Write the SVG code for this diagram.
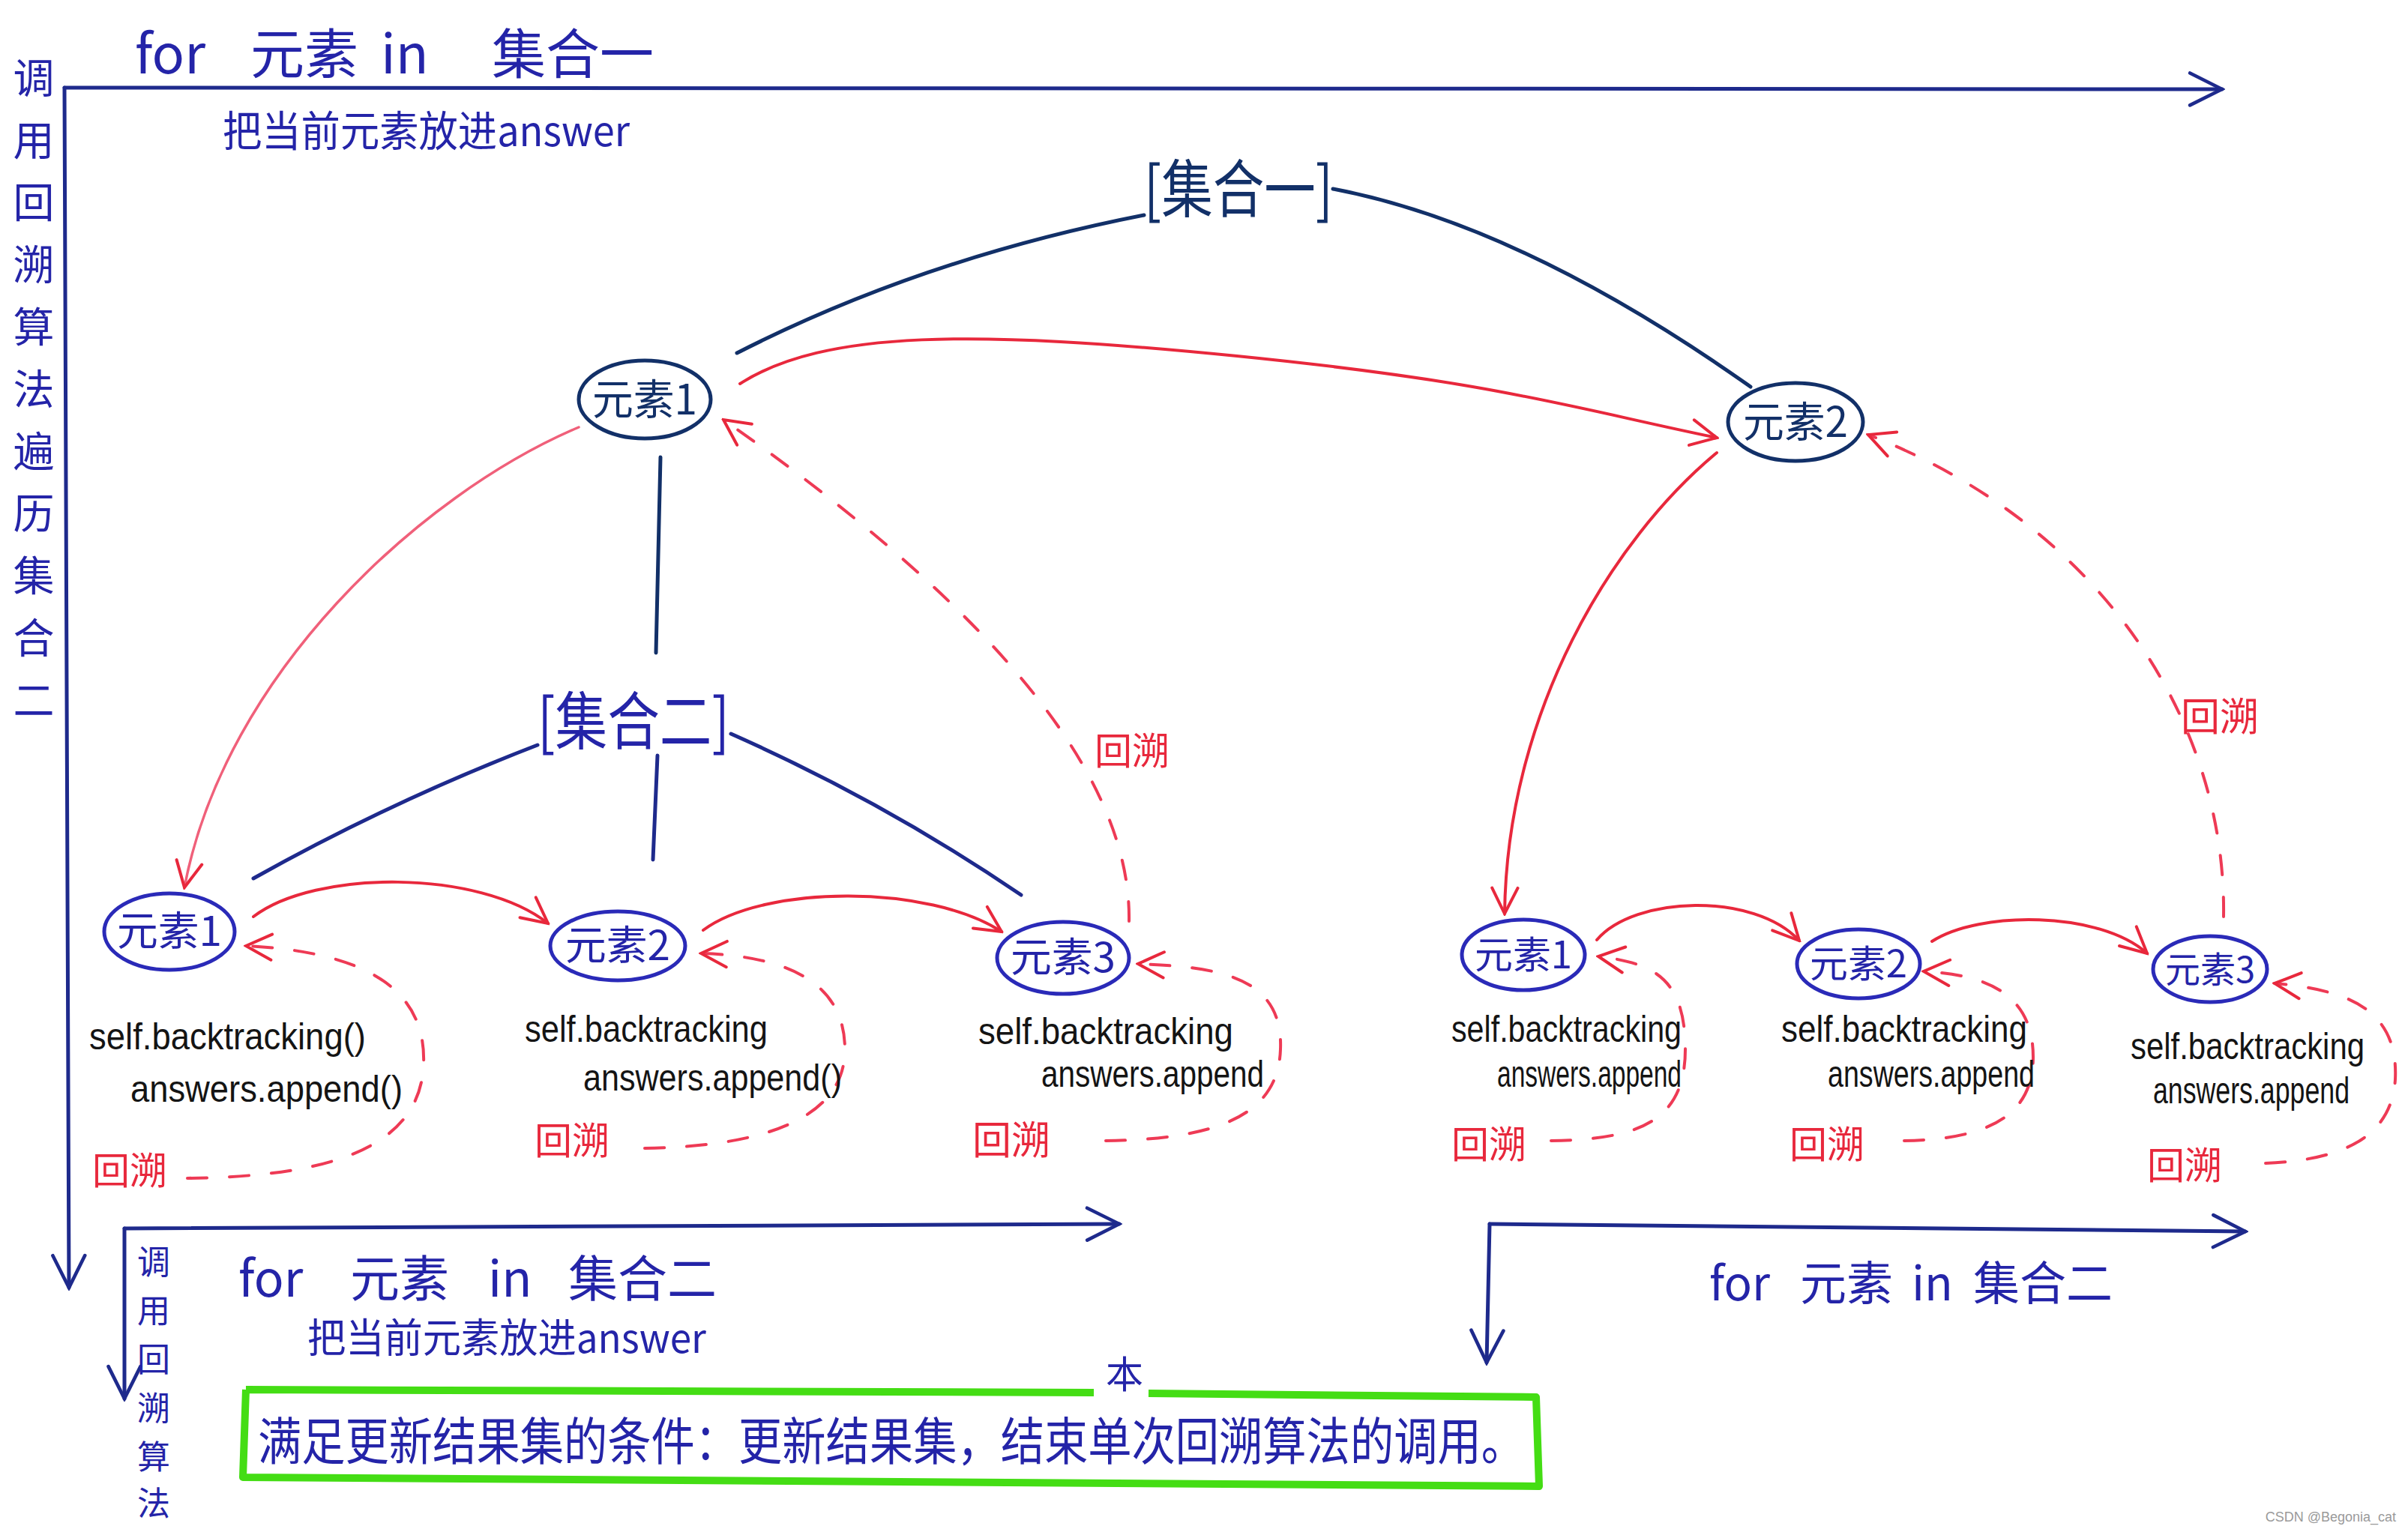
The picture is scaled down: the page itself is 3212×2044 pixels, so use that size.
<svg xmlns="http://www.w3.org/2000/svg" width="3212" height="2044" viewBox="0 0 3212 2044">
<defs>
<style>
.cjk{font-family:"Noto Sans CJK SC","Noto Sans",sans-serif;}
.code{font-family:"Liberation Sans","DejaVu Sans",sans-serif;fill:#141414;font-size:50px;}
.blue{fill:#2424a8;}
.navy{fill:#123068;}
.red{fill:#e8283c;}
.lnB{fill:none;stroke:#1e2a8c;stroke-width:5;stroke-linecap:round;}
.lnN{fill:none;stroke:#123068;stroke-width:5;stroke-linecap:round;}
.lnR{fill:none;stroke:#e8283c;stroke-width:4;stroke-linecap:round;}
.lnP{fill:none;stroke:#f0607a;stroke-width:3.5;stroke-linecap:round;}
.dash{fill:none;stroke:#ee3a55;stroke-width:4;stroke-dasharray:26 30;stroke-linecap:round;}
.nodeTop{fill:none;stroke:#123068;stroke-width:5;}
.nodeBot{fill:none;stroke:#2a2ab8;stroke-width:5;}
</style>
<marker id="ar" viewBox="0 0 14 14" refX="13" refY="7" markerWidth="40" markerHeight="40" markerUnits="userSpaceOnUse" orient="auto">
<path d="M1,1 L13,7 L1,13" fill="none" stroke="#e8283c" stroke-width="1.4" stroke-dasharray="none" stroke-linecap="round"/>
</marker>
<marker id="ab" viewBox="0 0 14 14" refX="13" refY="7" markerWidth="50" markerHeight="50" markerUnits="userSpaceOnUse" orient="auto">
<path d="M1,1 L13,7 L1,13" fill="none" stroke="#1e2a8c" stroke-width="1.3" stroke-linecap="round"/>
</marker>
</defs>
<rect width="3212" height="2044" fill="#ffffff"/>

<g id="connectors">
<!-- main loop frame -->
<path class="lnB" d="M86,117 L2964,119" marker-end="url(#ab)"/>
<path class="lnB" d="M86,117 L92,1718" marker-end="url(#ab)"/>
<!-- bottom-left frame -->
<path class="lnB" d="M166,1639 L1493,1633" marker-end="url(#ab)"/>
<path class="lnB" d="M166,1639 L166,1866" marker-end="url(#ab)"/>
<!-- bottom-right frame -->
<path class="lnB" d="M1987,1633 L2995,1643" marker-end="url(#ab)"/>
<path class="lnB" d="M1987,1633 L1983,1818" marker-end="url(#ab)"/>
<!-- tree lines -->
<path class="lnN" d="M1526,287 Q1230,345 983,471"/>
<path class="lnN" d="M1778,252 Q2030,300 2335,516"/>
<path class="lnN" d="M881,610 L875,871"/>
<path class="lnB" d="M717,994 Q520,1070 338,1172"/>
<path class="lnB" d="M877,1008 L871,1147"/>
<path class="lnB" d="M975,979 Q1180,1070 1362,1194"/>
<!-- red forward arrows -->
<path class="lnR" d="M987,512 C1100,440 1300,440 1650,475 S2100,545 2290,584" marker-end="url(#ar)"/>
<path class="lnP" d="M772,570 C560,660 300,900 246,1184" marker-end="url(#ar)"/>
<path class="lnR" d="M2290,604 C2150,720 2010,950 2007,1219" marker-end="url(#ar)"/>
<path class="lnR" d="M338,1223 C420,1160 640,1160 731,1232" marker-end="url(#ar)"/>
<path class="lnR" d="M938,1241 C1020,1180 1240,1180 1336,1243" marker-end="url(#ar)"/>
<path class="lnR" d="M2130,1254 C2180,1195 2340,1190 2400,1255" marker-end="url(#ar)"/>
<path class="lnR" d="M2577,1256 C2640,1215 2800,1215 2864,1272" marker-end="url(#ar)"/>
<!-- red dashed backtracking -->
<path class="dash" d="M1506,1229 C1510,1000 1250,760 965,560" marker-end="url(#ar)"/>
<path class="dash" d="M2966,1223 C2970,960 2800,700 2492,580" marker-end="url(#ar)"/>
<path class="dash" d="M250,1572 C420,1570 560,1540 565,1420 C570,1300 450,1268 328,1262" marker-end="url(#ar)"/>
<path class="dash" d="M860,1532 C1000,1530 1127,1500 1127,1400 C1127,1300 1030,1275 935,1272" marker-end="url(#ar)"/>
<path class="dash" d="M1475,1522 C1620,1520 1705,1490 1708,1400 C1712,1300 1620,1290 1518,1286" marker-end="url(#ar)"/>
<path class="dash" d="M2069,1522 C2180,1520 2248,1500 2248,1400 C2248,1300 2200,1285 2132,1276" marker-end="url(#ar)"/>
<path class="dash" d="M2540,1522 C2650,1520 2712,1490 2712,1410 C2712,1320 2640,1300 2566,1296" marker-end="url(#ar)"/>
<path class="dash" d="M3022,1552 C3120,1548 3190,1520 3195,1440 C3200,1340 3120,1320 3034,1312" marker-end="url(#ar)"/>
</g>

<g id="loop-labels">
<text class="cjk blue" font-size="72"><tspan x="180" y="98">for</tspan><tspan x="334" y="98">元素</tspan><tspan x="508" y="98">in</tspan><tspan x="656" y="98">集合一</tspan></text>
<text class="cjk blue" x="297" y="195" font-size="56" textLength="543" lengthAdjust="spacingAndGlyphs">把当前元素放进answer</text>
<text class="cjk blue" font-size="55" text-anchor="middle"><tspan x="45" y="124">调</tspan><tspan x="45" y="207">用</tspan><tspan x="45" y="290">回</tspan><tspan x="45" y="373">溯</tspan><tspan x="45" y="456">算</tspan><tspan x="45" y="539">法</tspan><tspan x="45" y="622">遍</tspan><tspan x="45" y="705">历</tspan><tspan x="45" y="788">集</tspan><tspan x="45" y="871">合</tspan><tspan x="45" y="954">二</tspan></text>
<text class="cjk blue" font-size="66"><tspan x="318" y="1730">for</tspan><tspan x="467" y="1730">元素</tspan><tspan x="651" y="1730">in</tspan><tspan x="758" y="1730">集合二</tspan></text>
<text class="cjk blue" x="410" y="1805" font-size="54" textLength="532" lengthAdjust="spacingAndGlyphs">把当前元素放进answer</text>
<text class="cjk blue" font-size="44" text-anchor="middle"><tspan x="205" y="1700">调</tspan><tspan x="205" y="1765">用</tspan><tspan x="205" y="1830">回</tspan><tspan x="205" y="1895">溯</tspan><tspan x="205" y="1960">算</tspan><tspan x="205" y="2022">法</tspan></text>
<text class="cjk blue" font-size="62"><tspan x="2280" y="1735">for</tspan><tspan x="2401" y="1735">元素</tspan><tspan x="2550" y="1735">in</tspan><tspan x="2632" y="1735">集合二</tspan></text>
</g>

<g id="set1"><text class="cjk navy" x="1652" y="283" font-size="84" text-anchor="middle" textLength="252" lengthAdjust="spacingAndGlyphs">[集合一]</text></g>
<g id="set2"><text class="cjk blue" x="845" y="993" font-size="84" text-anchor="middle" textLength="256" lengthAdjust="spacingAndGlyphs">[集合二]</text></g>

<g id="top-el1"><ellipse class="nodeTop" cx="860" cy="533" rx="88" ry="52"/><text class="cjk navy" x="860" y="553" font-size="56" text-anchor="middle" textLength="140" lengthAdjust="spacingAndGlyphs">元素1</text></g>
<g id="top-el2"><ellipse class="nodeTop" cx="2395" cy="563" rx="90" ry="52"/><text class="cjk navy" x="2395" y="583" font-size="56" text-anchor="middle" textLength="140" lengthAdjust="spacingAndGlyphs">元素2</text></g>

<g id="bl-el1"><ellipse class="nodeBot" cx="226" cy="1243" rx="87" ry="51"/><text class="cjk blue" x="226" y="1262" font-size="54" text-anchor="middle" textLength="140" lengthAdjust="spacingAndGlyphs">元素1</text></g>
<g id="bl-el2"><ellipse class="nodeBot" cx="824" cy="1262" rx="90" ry="46"/><text class="cjk blue" x="824" y="1281" font-size="54" text-anchor="middle" textLength="140" lengthAdjust="spacingAndGlyphs">元素2</text></g>
<g id="bl-el3"><ellipse class="nodeBot" cx="1418" cy="1278" rx="88" ry="48"/><text class="cjk blue" x="1418" y="1297" font-size="54" text-anchor="middle" textLength="140" lengthAdjust="spacingAndGlyphs">元素3</text></g>
<g id="br-el1"><ellipse class="nodeBot" cx="2032" cy="1274" rx="82" ry="47"/><text class="cjk blue" x="2032" y="1292" font-size="50" text-anchor="middle" textLength="130" lengthAdjust="spacingAndGlyphs">元素1</text></g>
<g id="br-el2"><ellipse class="nodeBot" cx="2479" cy="1286" rx="82" ry="46"/><text class="cjk blue" x="2479" y="1304" font-size="50" text-anchor="middle" textLength="130" lengthAdjust="spacingAndGlyphs">元素2</text></g>
<g id="br-el3"><ellipse class="nodeBot" cx="2948" cy="1293" rx="76" ry="44"/><text class="cjk blue" x="2948" y="1311" font-size="48" text-anchor="middle" textLength="120" lengthAdjust="spacingAndGlyphs">元素3</text></g>

<g id="code-texts">
<text class="code" x="119" y="1400" textLength="369" lengthAdjust="spacingAndGlyphs">self.backtracking()</text>
<text class="code" x="174" y="1470" textLength="363" lengthAdjust="spacingAndGlyphs">answers.append()</text>
<text class="code" x="700" y="1390" textLength="324" lengthAdjust="spacingAndGlyphs">self.backtracking</text>
<text class="code" x="778" y="1455" textLength="345" lengthAdjust="spacingAndGlyphs">answers.append()</text>
<text class="code" x="1305" y="1393" textLength="340" lengthAdjust="spacingAndGlyphs">self.backtracking</text>
<text class="code" x="1389" y="1450" textLength="297" lengthAdjust="spacingAndGlyphs">answers.append</text>
<text class="code" x="1936" y="1390" textLength="307" lengthAdjust="spacingAndGlyphs">self.backtracking</text>
<text class="code" x="1997" y="1450" textLength="246" lengthAdjust="spacingAndGlyphs">answers.append</text>
<text class="code" x="2376" y="1390" textLength="328" lengthAdjust="spacingAndGlyphs">self.backtracking</text>
<text class="code" x="2438" y="1450" textLength="276" lengthAdjust="spacingAndGlyphs">answers.append</text>
<text class="code" x="2842" y="1413" font-size="42" textLength="312" lengthAdjust="spacingAndGlyphs">self.backtracking</text>
<text class="code" x="2872" y="1472" font-size="35" textLength="262" lengthAdjust="spacingAndGlyphs">answers.append</text>
</g>

<g id="backtrack-labels">
<text class="cjk red" x="1460" y="1020" font-size="50">回溯</text>
<text class="cjk red" x="2909" y="975" font-size="52">回溯</text>
<text class="cjk red" x="123" y="1580" font-size="50">回溯</text>
<text class="cjk red" x="713" y="1540" font-size="50">回溯</text>
<text class="cjk red" x="1297" y="1540" font-size="52">回溯</text>
<text class="cjk red" x="1936" y="1545" font-size="50">回溯</text>
<text class="cjk red" x="2387" y="1545" font-size="50">回溯</text>
<text class="cjk red" x="2864" y="1573" font-size="50">回溯</text>
</g>

<g id="end-condition">
<path d="M328,1854 L1459,1858 M1532,1859 L2049,1864 L2053,1983 L324,1971 L328,1854" fill="none" stroke="#44dd14" stroke-width="10" stroke-linejoin="round"/>
<text class="cjk blue" x="1500" y="1852" font-size="50" text-anchor="middle">本</text>
<text class="cjk blue" x="344" y="1948" font-size="68" textLength="1690" lengthAdjust="spacingAndGlyphs">满足更新结果集的条件：更新结果集，结束单次回溯算法的调用。</text>
</g>

<text x="3196" y="2030" font-family="Liberation Sans, sans-serif" font-size="18" fill="#9a9a9a" text-anchor="end">CSDN @Begonia_cat</text>
</svg>
